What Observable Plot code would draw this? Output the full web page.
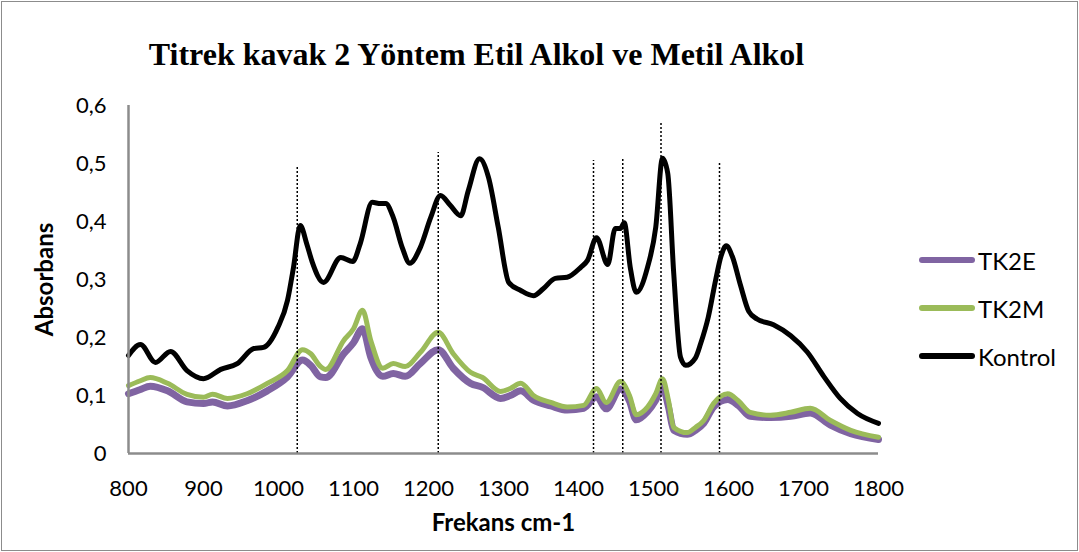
<!DOCTYPE html>
<html>
<head>
<meta charset="utf-8">
<script src="https://cdn.jsdelivr.net/npm/d3@7"></script>
<script src="https://cdn.jsdelivr.net/npm/@observablehq/plot@0.6"></script>
<style>
  html, body { margin: 0; padding: 0; background: #fff; }
  #wrap { position: relative; width: 1079px; height: 552px; }
  #frame { position: absolute; left: 1px; top: 1px; width: 1075px; height: 548px; border: 1px solid #8c8c8c; pointer-events: none; }
  #legend { position: absolute; left: 919px; top: 236px; font-family: Lato, "Open Sans", sans-serif; font-size: 24px; color: #000; }
  .item { display: flex; align-items: center; height: 48px; margin-top: 0; }
  .sw { width: 56px; height: 6px; border-radius: 3px; margin-right: 3px; }
</style>
</head>
<body>
<div id="wrap">
  <div id="chart"></div>
  <div id="frame"></div>
  <div id="legend"></div>
</div>
<script>
const title = "Titrek kavak 2 Yöntem Etil Alkol ve Metil Alkol";
const xLabel = "Frekans cm-1";
const yLabel = "Absorbans";
const seriesNames = ["TK2E", "TK2M", "Kontrol"];
const seriesColors = ["#8064A2", "#9BBB59", "#000000"];
const xTicks = [800, 900, 1000, 1100, 1200, 1300, 1400, 1500, 1600, 1700, 1800];
const yTicks = [0, 0.1, 0.2, 0.3, 0.4, 0.5, 0.6];

const kontrolX = [800,816,836,856,878,900,923,945,967,980,999,1012,1020,1029,1038,1045,1060,1083,1099,1109,1125,1136,1143,1153,1165,1175,1189,1203,1216,1229,1243,1253,1268,1280,1293,1307,1323,1340,1353,1369,1385,1403,1412,1424,1439,1449,1456,1461,1469,1477,1492,1503,1512,1519,1527,1536,1543,1556,1563,1573,1583,1590,1597,1605,1616,1627,1638,1660,1683,1705,1727,1749,1772,1800];
const kontrolY = [0.169,0.188,0.157,0.176,0.143,0.129,0.145,0.155,0.181,0.183,0.217,0.264,0.321,0.393,0.36,0.33,0.295,0.338,0.331,0.362,0.433,0.431,0.431,0.407,0.355,0.328,0.355,0.407,0.445,0.428,0.410,0.453,0.508,0.476,0.390,0.295,0.281,0.272,0.284,0.302,0.304,0.321,0.333,0.372,0.326,0.388,0.388,0.398,0.321,0.278,0.321,0.390,0.509,0.483,0.310,0.166,0.152,0.165,0.19,0.235,0.30,0.34,0.358,0.34,0.29,0.245,0.232,0.222,0.203,0.175,0.133,0.095,0.069,0.052];

const tkX = [800,815,829,852,878,900,912,932,958,985,1012,1032,1043,1056,1063,1087,1100,1112,1123,1139,1153,1169,1189,1213,1233,1256,1272,1296,1309,1323,1340,1363,1385,1407,1424,1437,1456,1468,1477,1492,1503,1512,1520,1527,1545,1556,1567,1580,1599,1613,1629,1656,1683,1709,1736,1763,1800];
const tk2mY = [0.117,0.125,0.131,0.121,0.102,0.097,0.102,0.095,0.103,0.121,0.143,0.179,0.172,0.150,0.145,0.195,0.215,0.247,0.195,0.147,0.155,0.150,0.174,0.209,0.172,0.140,0.131,0.107,0.112,0.121,0.100,0.088,0.080,0.083,0.112,0.088,0.124,0.100,0.067,0.080,0.103,0.129,0.091,0.045,0.036,0.045,0.057,0.086,0.103,0.091,0.071,0.066,0.071,0.078,0.057,0.040,0.028];
const tk2eY = [0.103,0.110,0.116,0.108,0.089,0.086,0.089,0.082,0.091,0.108,0.132,0.161,0.152,0.132,0.131,0.172,0.191,0.215,0.166,0.133,0.138,0.133,0.155,0.179,0.147,0.121,0.114,0.095,0.100,0.108,0.092,0.082,0.075,0.078,0.098,0.077,0.111,0.090,0.058,0.072,0.092,0.114,0.080,0.040,0.033,0.040,0.052,0.080,0.093,0.083,0.064,0.062,0.064,0.070,0.049,0.034,0.024];

const markerX = [1025, 1213, 1420, 1459, 1510, 1588];
const markerTop = [0.493, 0.519, 0.505, 0.507, 0.569, 0.502];

const toRows = (xs, ys) => xs.map((x, i) => ({x, y: ys[i]}));
const tk2e = toRows(tkX, tk2eY);
const tk2m = toRows(tkX, tk2mY);
const kontrol = toRows(kontrolX, kontrolY);
const markers = markerX.map((x, i) => ({x, top: markerTop[i]}));

const fmt = d => d === 0 ? "0" : d.toFixed(1).replace(".", ",");

const chart = Plot.plot({
  width: 1079,
  height: 552,
  marginLeft: 128,
  marginRight: 201,
  marginTop: 105,
  marginBottom: 99,
  style: { fontFamily: "Lato, 'Open Sans', sans-serif", fontSize: "22px", color: "#000", background: "transparent" },
  x: { domain: [800, 1800] },
  y: { domain: [0, 0.6] },
  marks: [
    Plot.axisX({ ticks: xTicks, tickSize: 0, tickPadding: 27, tickFormat: d => String(d), label: null }),
    Plot.axisY({ ticks: yTicks, tickSize: 0, tickPadding: 22, tickFormat: fmt, label: null }),
    Plot.line(tk2e, { x: "x", y: "y", stroke: seriesColors[0], strokeWidth: 7, curve: "monotone-x" }),
    Plot.line(tk2m, { x: "x", y: "y", stroke: seriesColors[1], strokeWidth: 5, curve: "monotone-x" }),
    Plot.line(kontrol, { x: "x", y: "y", stroke: seriesColors[2], strokeWidth: 5, curve: "monotone-x" }),
    Plot.ruleX(markers, { x: "x", y1: 0, y2: "top", stroke: "#000", strokeWidth: 1.5, strokeDasharray: "2,2" }),
    Plot.ruleX([800], { stroke: "#8c8c8c", strokeWidth: 2.5 }),
    Plot.ruleY([0], { stroke: "#8c8c8c", strokeWidth: 2.5 }),
    Plot.text([yLabel], { frameAnchor: "left", dx: -83, rotate: -90, textAnchor: "middle", fontWeight: "bold", fontSize: 24 }),
    Plot.text([xLabel], { frameAnchor: "bottom", dy: 77, fontWeight: "bold", fontSize: 24 }),
    Plot.text([title], { frameAnchor: "top", dx: -27, dy: -63, fontFamily: "'Liberation Serif', 'Times New Roman', serif", fontWeight: "bold", fontSize: 32 })
  ]
});
document.getElementById("chart").appendChild(chart);

const legend = document.getElementById("legend");
seriesNames.forEach((name, i) => {
  const item = document.createElement("div");
  item.className = "item";
  const sw = document.createElement("div");
  sw.className = "sw";
  sw.style.background = seriesColors[i];
  const label = document.createElement("span");
  label.textContent = name;
  item.appendChild(sw);
  item.appendChild(label);
  legend.appendChild(item);
});
</script>
</body>
</html>
